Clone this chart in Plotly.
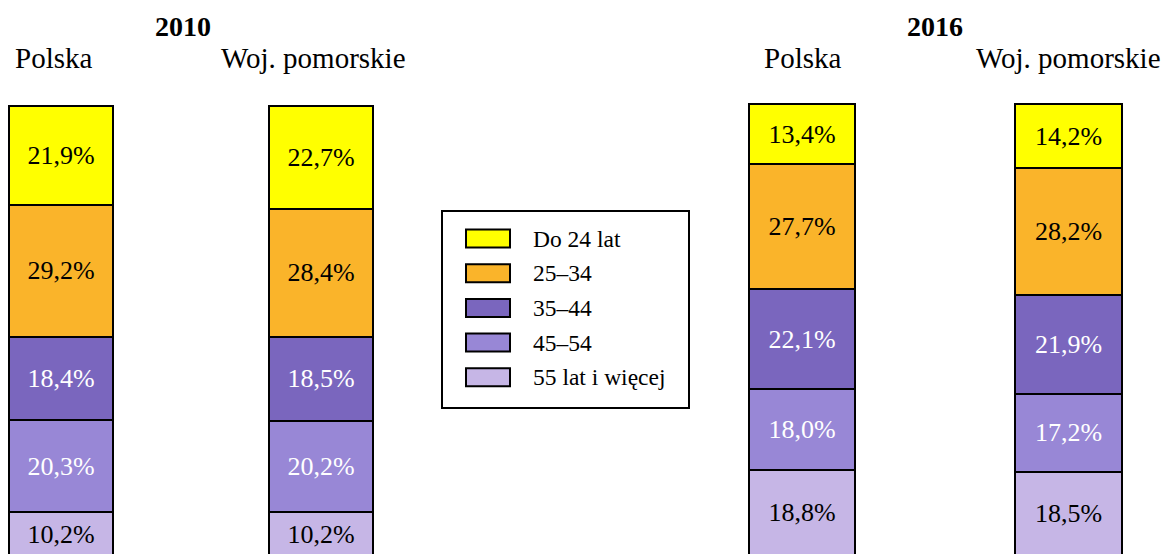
import plotly.graph_objects as go

# ---- data ----
regions = ["Polska", "Woj. pomorskie"]
age_groups = ["Do 24 lat", "25–34", "35–44", "45–54", "55 lat i więcej"]
share_2010_polska = [21.9, 29.2, 18.4, 20.3, 10.2]
share_2010_pomorskie = [22.7, 28.4, 18.5, 20.2, 10.2]
share_2016_polska = [13.4, 27.7, 22.1, 18.0, 18.8]
share_2016_pomorskie = [14.2, 28.2, 21.9, 17.2, 18.5]
years = ["2010", "2016"]

# ---- styles ----
colors = ["#FFFF00", "#FAB42A", "#7A66BE", "#9887D6", "#C6B6E6"]
text_colors = ["black", "black", "white", "white", "black"]
FONT = "Liberation Serif"
W, H = 1164, 554


def fmt(v):
    return f"{v:.1f}".replace(".", ",") + "%"


fig = go.Figure()

panels = [
    ("x", "y", share_2010_polska, share_2010_pomorskie),
    ("x2", "y2", share_2016_polska, share_2016_pomorskie),
]

for xa, ya, pol, pom in panels:
    # bottom segment first so that "Do 24 lat" ends on top
    for i in reversed(range(len(age_groups))):
        vals = [pol[i], pom[i]]
        fig.add_trace(go.Bar(
            x=regions, y=vals, xaxis=xa, yaxis=ya,
            name=age_groups[i], showlegend=False,
            width=0.4,
            marker=dict(color=colors[i], line=dict(color="black", width=2)),
            text=[fmt(v) for v in vals],
            textposition="inside", insidetextanchor="middle", textangle=0,
            textfont=dict(family=FONT, size=26, color=text_colors[i]),
            hoverinfo="skip",
        ))

fig.update_layout(
    width=W, height=H, margin=dict(l=0, r=0, t=0, b=0),
    paper_bgcolor="white", plot_bgcolor="white",
    barmode="stack",
    uniformtext=dict(mode="show", minsize=26),
    xaxis=dict(domain=[0, 430 / W], range=[-0.2346, 1.419], visible=False,
               type="category"),
    yaxis=dict(domain=[0, 1], range=[0.885, 123.45], visible=False),
    xaxis2=dict(domain=[700 / W, 1], range=[-0.3827, 1.358], visible=False,
                type="category", anchor="y2"),
    yaxis2=dict(domain=[0, 1], range=[0.22, 123.06], visible=False, anchor="x2"),
)

annotations = []
# year headers and region labels
for k, (xa, shift) in enumerate([("x", -8), ("x2", 0)]):
    annotations.append(dict(
        xref=xa, yref="paper", x=0.5, y=1 - 26 / H, text=f"<b>{years[k]}</b>",
        xshift=shift, showarrow=False, xanchor="center", yanchor="middle",
        font=dict(family=FONT, size=28, color="black")))
    for j, r in enumerate(regions):
        annotations.append(dict(
            xref=xa, yref="paper", x=j, y=1 - 58 / H, text=r,
            xshift=shift, showarrow=False, xanchor="center", yanchor="middle",
            font=dict(family=FONT, size=29, color="black")))

# custom legend
shapes = [dict(type="rect", xref="paper", yref="paper",
               x0=442 / W, x1=689 / W, y0=1 - 408 / H, y1=1 - 211 / H,
               line=dict(color="black", width=2), fillcolor="white")]
for i, g in enumerate(age_groups):
    cy = 238.5 + 34.7 * i
    shapes.append(dict(type="rect", xref="paper", yref="paper",
                       x0=466 / W, x1=510 / W,
                       y0=1 - (cy + 9) / H, y1=1 - (cy - 9) / H,
                       line=dict(color="black", width=2), fillcolor=colors[i]))
    annotations.append(dict(
        xref="paper", yref="paper", x=531 / W, y=1 - cy / H, text=g,
        showarrow=False, xanchor="left", yanchor="middle",
        font=dict(family=FONT, size=23.5, color="black")))

fig.update_layout(annotations=annotations, shapes=shapes)

fig.write_html("out.html", config={"displayModeBar": False},
               post_script="document.body.style.margin='0';")
